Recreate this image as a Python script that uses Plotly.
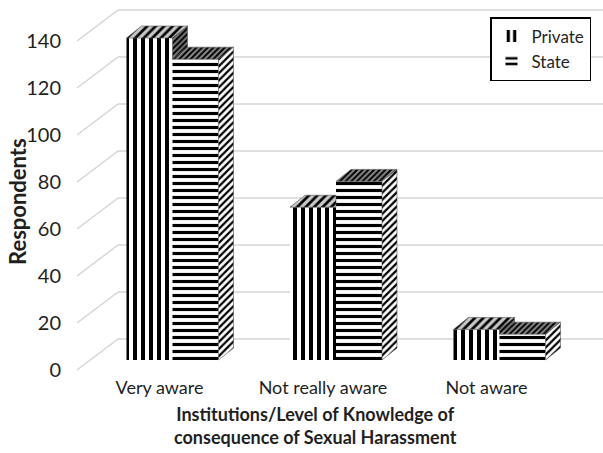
import plotly.graph_objects as go

# Survey results: awareness of the consequences of sexual harassment
categories = ["Very aware", "Not really aware", "Not aware"]
private_vals = [137, 65, 13]
state_vals = [128, 76, 11]
y_ticks = [0, 20, 40, 60, 80, 100, 120, 140]

# ---- pseudo-3D geometry (pixel sizes converted into axis units) ----
W, H = 603, 453
M_L, M_R, M_T, M_B = 75, 0, 5, 78
PLOT_W = W - M_L - M_R
PLOT_H = H - M_T - M_B
PX_PER_CAT = 163.5          # horizontal pixels per category step
PX_PER_VAL = 2.35           # vertical pixels per respondent
CAT0_PX = 159.5             # front-plane position of the first category
ZERO_PX = 370               # front-plane position of value 0

x_lo = (M_L - CAT0_PX) / PX_PER_CAT
x_hi = (W - M_R - CAT0_PX) / PX_PER_CAT
y_lo = -((H - M_B) - ZERO_PX) / PX_PER_VAL
y_hi = (ZERO_PX - M_T) / PX_PER_VAL

bar_w = 46 / PX_PER_CAT       # width of one bar front face
bar_shift = 13 / PX_PER_CAT   # bars sit a little behind the front plane
bar_lift = 10 / PX_PER_VAL
depth_dx = 15 / PX_PER_CAT    # receding depth of each column
depth_dy = 12 / PX_PER_VAL
wall_dx = 41 / PX_PER_CAT     # back wall offset
wall_dy = 31 / PX_PER_VAL

FONT = "Lato"
TXT = "#1f1f1f"
GRID = "#d4d4d4"


def px_x(px):
    return (px - M_L) / PLOT_W


def px_y(px):
    return ((H - M_B) - px) / PLOT_H


fig = go.Figure()

# front faces
fig.add_trace(go.Bar(
    name="Private", x=list(range(len(categories))), y=private_vals,
    base=bar_lift, width=bar_w, offset=bar_shift - bar_w,
    marker=dict(color="white", line=dict(width=0),
                pattern=dict(shape="|", fgcolor="black", bgcolor="white",
                             fgopacity=1, size=8, solidity=0.5)),
))
fig.add_trace(go.Bar(
    name="State", x=list(range(len(categories))), y=state_vals,
    base=bar_lift, width=bar_w, offset=bar_shift,
    marker=dict(color="white", line=dict(width=0),
                pattern=dict(shape="-", fgcolor="black", bgcolor="white",
                             fgopacity=1, size=7, solidity=0.45)),
))


def face(xs, ys, fg, bg, size, solidity):
    fig.add_trace(go.Scatter(
        x=xs + [xs[0]], y=ys + [ys[0]], mode="lines", fill="toself",
        line=dict(width=0.6, color="#555555"),
        fillcolor=bg,
        fillpattern=dict(shape="/", fgcolor=fg, bgcolor=bg, fgopacity=1,
                         size=size, solidity=solidity),
        showlegend=False, hoverinfo="skip",
    ))


# state column: top and right side
for i, s in enumerate(state_vals):
    x1 = i + bar_shift
    x2 = x1 + bar_w
    top = bar_lift + s
    face([x1, x2, x2 + depth_dx, x1 + depth_dx],
         [top, top, top + depth_dy, top + depth_dy], "black", "#8c8c8c", 4, 0.5)
    face([x2, x2 + depth_dx, x2 + depth_dx, x2],
         [bar_lift, bar_lift + depth_dy, top + depth_dy, top], "black", "white", 5, 0.45)

# private column: top (cut by a taller neighbour) and exposed right side
for i, (p, s) in enumerate(zip(private_vals, state_vals)):
    x1 = i + bar_shift
    x0 = x1 - bar_w
    top = bar_lift + p
    if p < s:
        face([x0, x1, x1, x0 + depth_dx],
             [top, top, top + depth_dy, top + depth_dy], "black", "#c8c8c8", 6, 0.45)
    else:
        face([x0, x1, x1 + depth_dx, x0 + depth_dx],
             [top, top, top + depth_dy, top + depth_dy], "black", "#c8c8c8", 6, 0.45)
        lo = bar_lift + s
        face([x1, x1 + depth_dx, x1 + depth_dx, x1],
             [lo, lo + depth_dy, top + depth_dy, top], "black", "#7a7a7a", 4, 0.5)

# perspective gridlines: floor-to-wall diagonals and back-wall horizontals
shapes = []
x_front = x_lo + 2 / PX_PER_CAT
x_back = x_front + wall_dx
for v in y_ticks:
    shapes.append(dict(type="line", xref="x", yref="y", layer="below",
                       x0=x_front, y0=v, x1=x_back, y1=v + wall_dy,
                       line=dict(color=GRID, width=1.5)))
    shapes.append(dict(type="line", xref="x", yref="y", layer="below",
                       x0=x_back, y0=v + wall_dy, x1=x_hi, y1=v + wall_dy,
                       line=dict(color=GRID, width=1.5)))

fig.update_layout(
    width=W, height=H,
    margin=dict(l=M_L, r=M_R, t=M_T, b=M_B),
    paper_bgcolor="white", plot_bgcolor="white",
    barmode="overlay",
    font=dict(family=FONT, color=TXT),
    shapes=shapes,
    xaxis=dict(range=[x_lo, x_hi], tickvals=list(range(len(categories))),
               ticktext=categories, showgrid=False, zeroline=False,
               showline=False, ticks="", tickfont=dict(size=18, color=TXT)),
    yaxis=dict(range=[y_lo, y_hi], tickvals=y_ticks, showgrid=False,
               zeroline=False, showline=False, ticks="outside", ticklen=9,
               tickcolor="rgba(0,0,0,0)",
               tickfont=dict(size=20, color=TXT)),
    legend=dict(x=px_x(591), xanchor="right", y=px_y(17), yanchor="top",
                bgcolor="white", bordercolor="black", borderwidth=1.5,
                font=dict(size=17, color=TXT), itemwidth=30,
                tracegroupgap=0),
    annotations=[
        dict(text="<b>Respondents</b>", textangle=-90, xref="paper", yref="paper",
             x=px_x(17), y=px_y(202), xanchor="center", yanchor="middle",
             showarrow=False, font=dict(size=22, color=TXT)),
        dict(text="<b>Institutions/Level of Knowledge of<br>consequence of Sexual Harassment</b>",
             xref="paper", yref="paper", x=px_x(315), y=px_y(425),
             xanchor="center", yanchor="middle",
             showarrow=False, font=dict(size=18, color=TXT)),
    ],
)

fig.write_html("out.html")
